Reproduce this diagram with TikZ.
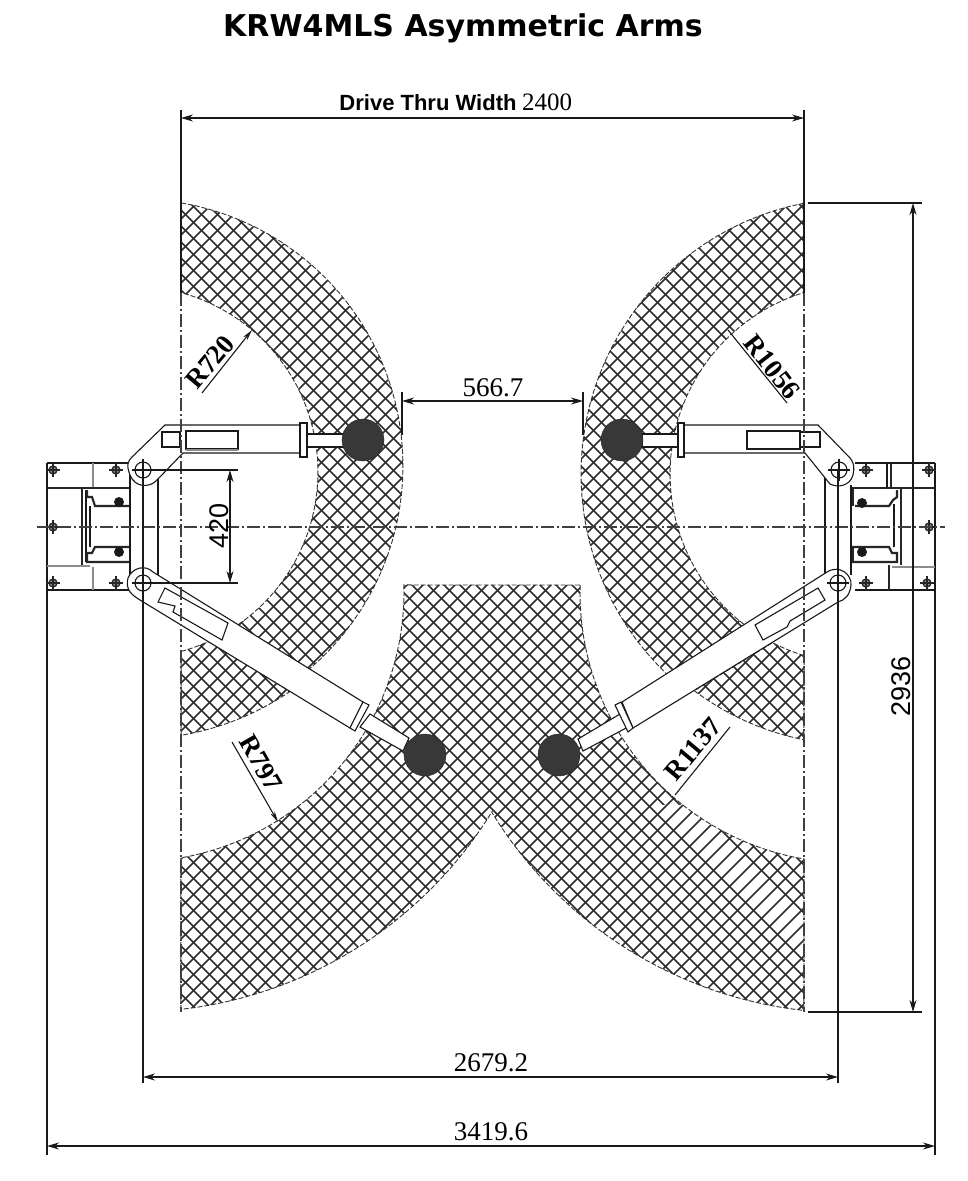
\documentclass[tikz,border=0pt]{standalone}
\usepackage{fontspec}
\setmainfont{Liberation Serif}
\newfontfamily\titlefont{DejaVu Sans}
\newfontfamily\armfont{Liberation Sans}
\usetikzlibrary{arrows.meta}
\tikzstyle{hatch_line}=[line width=1.5pt, black!82]
\tikzstyle{hatch_edge}=[line width=0.9pt, black!80, dash pattern=on 5pt off 2pt]
\tikzstyle{centre_line}=[line width=1.4pt, black!75, dash pattern=on 13pt off 3pt on 2pt off 3pt]
\tikzstyle{thin_line}=[line width=1.1pt, black!90]
\tikzstyle{thick_line}=[line width=2.2pt, black!85]
\tikzstyle{grey_line}=[line width=2.2pt, black!45]
\tikzstyle{arm_body}=[thin_line, fill=white]
\tikzstyle{dim_arrow}=[thin_line, <->, >={Stealth[length=12pt,width=7pt]}]
\tikzstyle{radius_arrow}=[thin_line, ->, >={Stealth[length=11pt,width=5pt]}]
\tikzstyle{dim_text}=[inner sep=0pt, font=\fontsize{27}{27}\selectfont]
\tikzstyle{dim_sans}=[inner sep=0pt, font=\armfont\fontsize{27}{27}\selectfont]
\tikzstyle{radius_text}=[inner sep=0pt, font=\bfseries\fontsize{27}{27}\selectfont]
\tikzstyle{post_dot}=[fill=black!78, draw=black!85]
\tikzstyle{bolt_line}=[line width=1.3pt, black!85]
\tikzstyle{ring_plot}=[samples=40, variable=\t]
\newcommand{\ringarc}[5]{plot[ring_plot,domain=#4:#5] ({#1+#3*cos(\t)},{#2+#3*sin(\t)})}
\newcommand{\ringto}[5]{-- plot[ring_plot,domain=#4:#5] ({#1+#3*cos(\t)},{#2+#3*sin(\t)})}
\newcommand{\hatchregions}{
	\ringarc{136}{466}{267}{-80.3}{49.5} \ringto{132}{472}{186}{56}{-74.7} -- cycle
	\ringarc{132}{472}{186}{74.7}{63.7} \ringto{136}{466}{273}{55.8}{80.5} -- cycle
	\ringarc{857}{474}{276}{259}{133.3} \ringto{860}{474}{190}{127}{252.9} -- cycle
	\ringarc{860}{474}{190}{107.1}{117.4} \ringto{857}{474}{271}{126.9}{101.3} -- cycle
	\ringarc{850}{593}{270}{181.7}{99.8} \ringto{850}{593}{420}{96.3}{148.5} \ringto{134}{592}{420}{31.5}{83.6} \ringto{134}{592}{270}{80}{-1.5} -- cycle
}
\begin{document}
\begin{tikzpicture}[x=1pt,y=-1pt]
	\fill[white] (0,0) rectangle (967,1181);
	\useasboundingbox (0,0) rectangle (967,1181);

	\coordinate (pivotTL) at (143,470);
	\coordinate (pivotBL) at (143,583);
	\coordinate (pivotTR) at (839,470);
	\coordinate (pivotBR) at (838,583);
	\coordinate (edgeL) at (181,118);
	\coordinate (edgeR) at (804,118);

	\node[inner sep=0pt, font=\titlefont\bfseries\fontsize{30}{30}\selectfont] (title) at (463,28) {KRW4MLS Asymmetric Arms};

	% hatched arm reach
	\begin{scope}
		\clip \hatchregions;
		\foreach \k in {0,...,134} {
			\draw[hatch_line] (\k*16-1181,0) -- (\k*16,1181);
		}
		\fill[white] (655,805) -- (687,805) -- (842,960) -- (810,960) -- cycle;
		\foreach \k in {0,...,134} {
			\draw[hatch_line] (\k*16,0) -- (\k*16-1181,1181);
		}
	\end{scope}
	\draw[hatch_edge] \hatchregions;

	% left column
	\draw[thin_line] (47,463) -- (130,463) (47,590) -- (130,590) (47,463) -- (47,1155);
	\draw[thick_line] (47,488) -- (130,488);
	\draw[thick_line] (82,488) -- (82,565);
	\draw[grey_line] (93,463) -- (93,487) (93,567) -- (93,590) (47,566) -- (90,566);
	\draw[thin_line] (86,490) -- (86,562);
	\draw[thick_line] (87,490) -- (87,497) -- (92,497) -- (95,506) -- (130,506);
	\draw[thick_line] (130,547) -- (95,547) -- (92,553) -- (87,553) -- (87,562) -- (130,562);
	\draw[thin_line] (90,506) -- (90,547);
	\fill[black!90] (119,502) circle[radius=5pt] (119,552) circle[radius=5pt];
	\draw[thin_line] (130,488) -- (130,565);

	% right column
	\draw[thin_line] (855,463) -- (935,463) (855,590) -- (935,590) (935,463) -- (935,1155);
	\draw[thick_line] (852,488) -- (935,488);
	\draw[thin_line] (887,463) -- (887,488);
	\draw[thick_line] (891,463) -- (891,488) (889,565) -- (889,590);
	\draw[thick_line] (901,488) -- (901,565);
	\draw[thick_line] (855,506) -- (889,506) -- (893,500) -- (897,497) -- (897,490);
	\draw[thick_line] (852,547) -- (889,547) -- (892,553) -- (897,553) -- (897,562) -- (852,562);
	\draw[thin_line] (894,504) -- (894,547);
	\draw[grey_line] (892,567) -- (935,567);
	\fill[black!90] (862,503) circle[radius=5pt] (862,552) circle[radius=5pt];
	\draw[thick_line] (853,488) -- (853,506) (853,547) -- (853,562);

	% bolts
	\foreach \x/\y in {53/470,116/470,53/527,53/583,116/583,866/470,929/470,929/527,866/583,927/583} {
		\draw[bolt_line, fill=black!45] (\x,\y) circle[radius=4pt];
		\draw[bolt_line] (\x-7,\y) -- (\x+7,\y) (\x,\y-7) -- (\x,\y+7);
	}

	% upper left arm
	\draw[thin_line] (130,470) -- (130,575) (158,478) -- (158,577);
	\draw[arm_body] (165,425) -- (300,425) -- (300,453) -- (183,453) -- (157,480) .. controls (150,488) and (135,488) .. (130,475) .. controls (126,465) and (128,461) .. (132,457) -- cycle;
	\draw[thin_line] (162,432) rectangle (180,447);
	\draw[thin_line] (186,431) rectangle (238,449);
	\draw[grey_line] (186,450) -- (238,450);
	\draw[arm_body] (307,434) rectangle (345,447);
	\draw[arm_body] (300,423) rectangle (307,457);
	\draw[post_dot] (363,440) circle[radius=21pt];

	% upper right arm
	\draw[thin_line] (825,477) -- (825,575) (851,485) -- (851,575);
	\draw[arm_body] (818,425) -- (684,425) -- (684,453) -- (805,453) -- (830,484) .. controls (838,488) and (850,486) .. (853,475) .. controls (855,465) and (853,462) .. (850,458) -- cycle;
	\draw[thin_line] (800,432) rectangle (820,447);
	\draw[thin_line] (747,431) rectangle (800,449);
	\draw[arm_body] (642,434) rectangle (678,447);
	\draw[arm_body] (678,423) rectangle (684,457);
	\draw[post_dot] (622,440) circle[radius=21pt];

	% lower left arm
	\draw[arm_body] (153,572) .. controls (145,564) and (132,568) .. (128,578) .. controls (125,590) and (132,595) .. (140,600) -- (350,728) -- (363,702) -- cycle;
	\draw[thin_line] (165,588) -- (228,623) -- (222,640) -- (173,612) -- (175,606) -- (158,602) -- cycle;
	\draw[arm_body] (370,714) -- (409,738) -- (403,751) -- (360,727) -- cycle;
	\draw[arm_body] (363,702) -- (369,705) -- (355,731) -- (350,728) -- cycle;
	\draw[post_dot] (425,755) circle[radius=21pt];

	% lower right arm
	\draw[arm_body] (622,702) -- (827,572) .. controls (840,564) and (852,575) .. (851,585) .. controls (850,595) and (845,600) .. (838,602) -- (633,728) -- cycle;
	\draw[thin_line] (755,625) -- (818,588) -- (825,600) -- (790,621) -- (787,627) -- (763,640) -- cycle;
	\draw[arm_body] (620,714) -- (578,739) -- (583,751) -- (628,727) -- cycle;
	\draw[arm_body] (615,705) -- (621,702) -- (633,728) -- (628,732) -- cycle;
	\draw[post_dot] (559,755) circle[radius=21pt];

	% pivots
	\foreach \p in {pivotTL,pivotBL,pivotTR,pivotBR} {
		\draw[thin_line] (\p) circle[radius=8pt];
		\draw[thin_line] (\p)+(-11,0) -- +(11,0) (\p)+(0,-11) -- +(0,11);
	}

	% centre lines
	\draw[centre_line] (37,527) -- (945,527);
	\draw[centre_line] (181,293) -- (181,1012);
	\draw[centre_line] (804,293) -- (804,1012);
	\draw[thin_line, line width=1.4pt] (edgeL)+(0,-8) -- (181,293);
	\draw[thin_line, line width=1.4pt] (edgeR)+(0,-8) -- (804,293);

	% dimensions
	\draw[thin_line] (143,470) -- (143,1083);
	\draw[thin_line] (838,470) -- (838,1083);
	\draw[thin_line] (150,470) -- (238,470) (150,583) -- (238,583);
	\draw[thin_line] (808,203) -- (922,203) (808,1012) -- (922,1012);
	\draw[thin_line] (402,392) -- (402,435) (583,392) -- (583,435);

	\draw[dim_arrow] (edgeL) -- (edgeR);
	\node[inner sep=0pt, font=\armfont\bfseries\fontsize{22}{22}\selectfont] (driveLabel) at (428,103) {Drive Thru Width};
	\node[inner sep=0pt, font=\fontsize{25}{25}\selectfont] (driveValue) at (547,102) {2400};

	\draw[dim_arrow] (402,401) -- (583,401);
	\node[dim_text] (gapValue) at (493,388) {566.7};

	\draw[dim_arrow] (230,470) -- (230,583);
	\node[dim_sans, rotate=90] (pivotValue) at (219,526) {420};

	\draw[dim_arrow, line width=1.4pt] (913,203) -- (913,1012);
	\node[dim_sans, rotate=90] (heightValue) at (901,686) {2936};

	\draw[dim_arrow] (143,1077) -- (838,1077);
	\node[dim_text] (innerValue) at (491,1063) {2679.2};

	\draw[dim_arrow] (47,1146) -- (935,1146);
	\node[dim_text] (outerValue) at (491,1132) {3419.6};

	% radii
	\draw[radius_arrow] (202,393) -- (252,330);
	\node[radius_text, rotate=50] (radiusTL) at (210,362) {R720};
	\draw[thin_line] (728,330) -- (787,403);
	\node[radius_text, rotate=-52] (radiusTR) at (772,367) {R1056};
	\draw[radius_arrow] (232,742) -- (278,822);
	\node[radius_text, rotate=-60] (radiusBL) at (261,763) {R797};
	\draw[thin_line] (730,727) -- (675,795);
	\node[radius_text, rotate=50] (radiusBR) at (693,749) {R1137};
\end{tikzpicture}
\end{document}
